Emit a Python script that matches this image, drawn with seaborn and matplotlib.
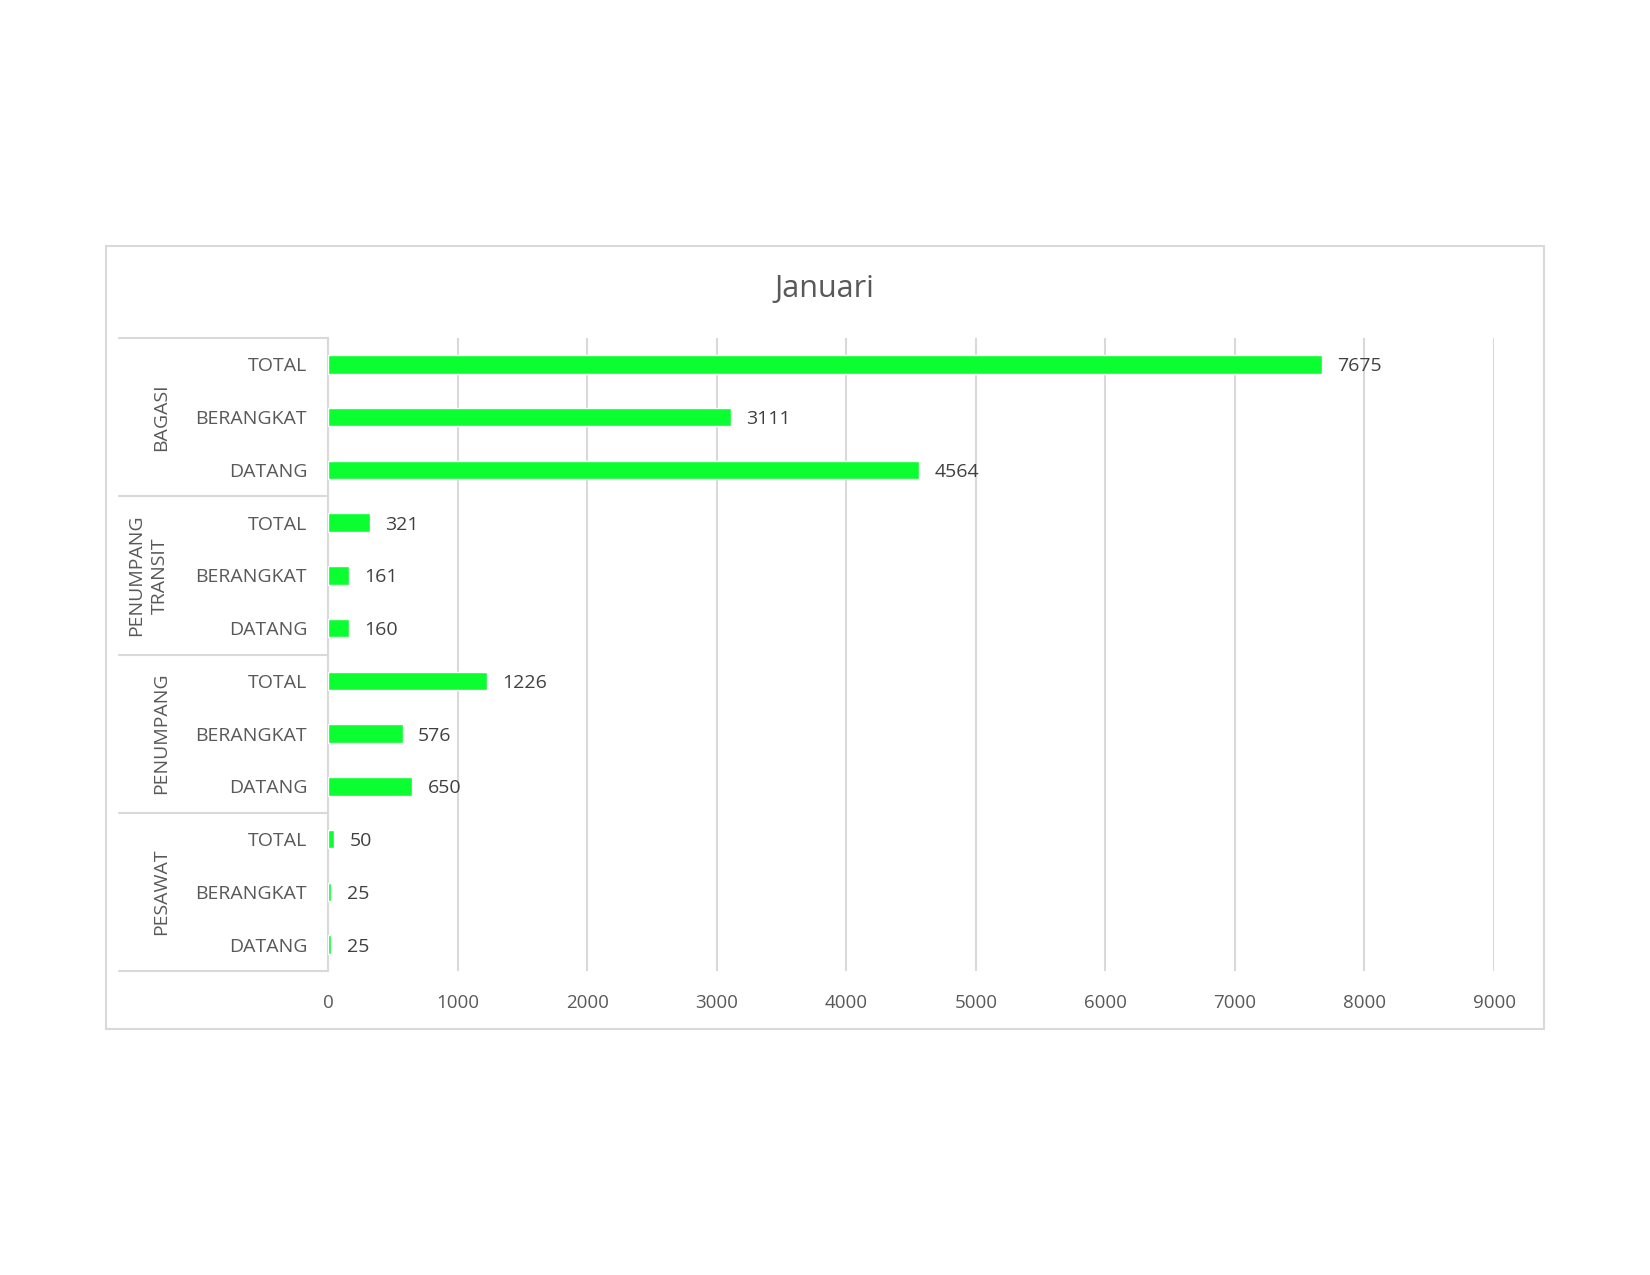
import matplotlib.pyplot as plt
import seaborn as sns
import pandas as pd
from matplotlib.patches import Rectangle
from matplotlib.lines import Line2D

# data, top to bottom as drawn
kelompok = ["BAGASI", "PENUMPANG\nTRANSIT", "PENUMPANG", "PESAWAT"]
jenis = ["TOTAL", "BERANGKAT", "DATANG"]
nilai = [
    [7675, 3111, 4564],
    [321, 161, 160],
    [1226, 576, 650],
    [50, 25, 25],
]

rows = []
for g, vals in zip(kelompok, nilai):
    for j, v in zip(jenis, vals):
        rows.append({"kelompok": g, "jenis": j, "nilai": v, "kunci": g + "|" + j})
df = pd.DataFrame(rows)

sns.set_theme(style="white")
plt.rcParams["font.family"] = ["Open Sans", "DejaVu Sans"]

W, H = 1650, 1275
fig = plt.figure(figsize=(16.5, 12.75), dpi=100)
ax = fig.add_axes([328 / W, 1 - 971 / H, (1494 - 328) / W, (971 - 338) / H])

grey = "#595959"
line_c = "#d9d9d9"

sns.barplot(data=df, y="kunci", x="nilai", order=list(df["kunci"]), orient="h",
            color="#0BFF30", width=0.35, saturation=1, ax=ax, zorder=3)

ax.set_xlim(0, 9000)
ax.set_xticks(range(0, 9001, 1000))
ax.xaxis.grid(True, color=line_c, linewidth=1.5, zorder=0)
ax.set_axisbelow(True)
ax.set_xlabel("")
ax.set_ylabel("")
ax.set_yticks(range(len(df)))
ax.set_yticklabels(df["jenis"], fontsize=14, color=grey)
ax.tick_params(axis="y", length=0, pad=15)
ax.tick_params(axis="x", length=0, pad=16.5, labelsize=13.5, labelcolor=grey)
for s in ["top", "right", "bottom"]:
    ax.spines[s].set_visible(False)
ax.spines["left"].set_color(line_c)
ax.spines["left"].set_linewidth(1.5)

for c in ax.containers:
    labels = ax.bar_label(c, labels=[str(v) for v in df["nilai"]], padding=11,
                          fontsize=14, color="#404040")
    for t in labels:
        t.xyann = (11, -1.5)

# group separators and group labels in figure pixels
y_top, y_bot = 338, 971
step = (y_bot - y_top) / len(kelompok)
for i in range(len(kelompok) + 1):
    y = y_top + i * step
    fig.add_artist(Line2D([119 / W, 328 / W], [1 - y / H, 1 - y / H],
                          color=line_c, linewidth=1.5))
for i, g in enumerate(kelompok):
    yc = y_top + (i + 0.5) * step
    fig.text(161 / W if "\n" not in g else 148 / W, 1 - yc / H, g, rotation=90,
             ha="center", va="center", fontsize=14, color=grey,
             multialignment="center", linespacing=1.4)

fig.text(824 / W, 1 - 289 / H, "Januari", ha="center", va="center",
         fontsize=22, color=grey)

fig.add_artist(Rectangle((106 / W, 1 - 1029 / H), (1544 - 106) / W, (1029 - 246) / H,
                         fill=False, edgecolor=line_c, linewidth=1.5))

fig.savefig("out.png", dpi=100, facecolor="white")
